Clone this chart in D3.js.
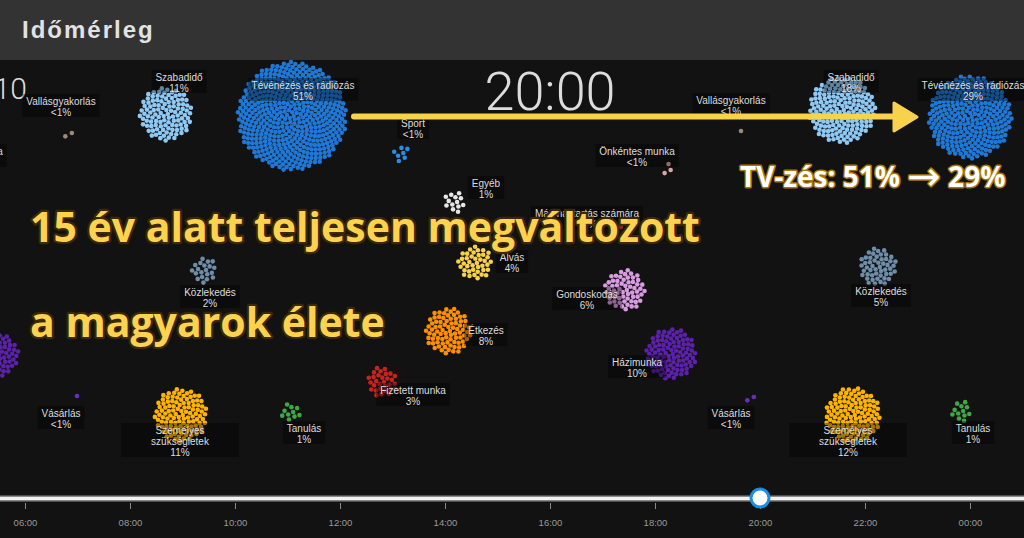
<!DOCTYPE html>
<html><head><meta charset="utf-8">
<script src="https://cdn.jsdelivr.net/npm/d3@7"></script>
<style>
html,body{margin:0;padding:0;background:#121212;overflow:hidden}
svg{display:block}
</style></head><body>
<svg id="c" width="1024" height="538"></svg>
<script>
// ---------------- DATA ----------------
const title = "Időmérleg";
const clockLabel = "20:00";
const yearLabel = "2010";
const headline = ["15 év alatt teljesen megváltozott", "a magyarok élete"];
const calloutParts = ["TV-zés: 51% ", "→", " 29%"];

const activityNames = ["Tévénézés és rádiózás","Szabadidő","Sport","Vallásgyakorlás","Önkéntes munka","Egyéb",
  "Más háztartás számára","Alvás","Gondoskodás","Étkezés","Házimunka","Közlekedés","Fizetett munka","Vásárlás",
  "Személyes\nszükségletek","Tanulás"];
const activityColors = ["#1f78d6","#8ec9f5","#2b8ce6","#9c8a78","#d9a6a0","#e6e6e6",
  "#d03a3a","#f7d148","#d89ae0","#ff8f00","#5b21a8","#6e8da8","#c8231f","#6a2eb8",
  "#ffb300","#3fa846"];

// each cluster = one activity group in a snapshot: activity index, share label, number of people (dots)
const clusterActivity = [0,1,3,4,11,10,13,14,15,12,2,5,6,7,8,9, 3,1,0,4,11,10,13,14,15];
const clusterShare    = ["51%","11%","<1%","<1%","2%","7%","<1%","11%","1%","3%","<1%","1%","<1%","4%","6%","8%",
                         "<1%","18%","29%","<1%","5%","10%","<1%","12%","1%"];
const clusterDots     = [510,110,2,3,20,70,1,110,10,30,7,13,1,40,60,80, 1,180,290,3,50,100,2,120,12];

// slider
const tickHours = [6,8,10,12,14,16,18,20,22,24];
const currentHour = 20;

// ---------------- LAYOUT (positions, not data) ----------------
// [cluster cx, cluster cy, label cx, label first-line y]
const clusterLayout = [
  [292,116,303,85],[166,114,179,77],[69,133,61,101],[-14,170,-35,151],[204,270,210,292],[-3,355,-40,370],
  [77,396,61,413],[181,415,180,430],[291,412,304,428],[382,382,413,390],[401,153,413,123],[455,202,486,183],
  [621,227,587,213],[475,263,512,257],[625,290,587,294],[448,331,486,330],
  [741,131,731,100],[842,110,851,77],[970,117,973,85],[668,170,637,151],[878,267,881,291],[671,354,637,362],
  [751,397,731,413],[853,415,848,430],[961,411,973,428]
];

// ---------------- DRAW ----------------
const svg = d3.select("#c");
svg.append("rect").attr("width",1024).attr("height",538).attr("fill","#121212");
svg.append("rect").attr("width",1024).attr("height",60).attr("fill","#333333");
svg.append("text").attr("x",22).attr("y",38).text(title)
  .attr("font-family","Liberation Sans, Arial, sans-serif").attr("font-weight","bold")
  .attr("font-size",24).attr("letter-spacing",2).attr("fill","#e2e2e2");

// clock & year
svg.append("text").attr("x",550).attr("y",110).attr("text-anchor","middle").text(clockLabel)
  .attr("font-family","Roboto, Liberation Sans, sans-serif").attr("font-weight",300)
  .attr("font-size",54).attr("fill","#dcdcdc");
svg.append("text").attr("x",27).attr("y",99).attr("text-anchor","end").text(yearLabel)
  .attr("font-family","Roboto, Liberation Sans, sans-serif").attr("font-weight",300)
  .attr("font-size",30).attr("fill","#dcdcdc");

// dots
const rScale = d3.scaleSqrt().domain([0,1]).range([0,2.3]);
const GA = Math.PI*(3-Math.sqrt(5));
const dotsLayer = svg.append("g");
const labelLayer = svg.append("g");
clusterDots.forEach((n,i)=>{
  const [cx,cy,lx,ly] = clusterLayout[i];
  const R = n>1 ? rScale(n)+2.5 : 0;
  const col = activityColors[clusterActivity[i]];
  dotsLayer.append("g").selectAll("circle").data(d3.range(n)).join("circle")
    .attr("cx",k=>cx+R*Math.sqrt((k+0.5)/n)*Math.cos(k*GA))
    .attr("cy",k=>cy+R*Math.sqrt((k+0.5)/n)*Math.sin(k*GA))
    .attr("r",2.3).attr("fill",col);

  const name = activityNames[clusterActivity[i]];
  const lines = name.split("\n").concat([clusterShare[i]]);
  const g = labelLayer.append("g").attr("transform",`translate(${lx},${ly})`);
  const rect = g.append("rect");
  const tmp = g.append("text").attr("font-family","Liberation Sans, Arial, sans-serif").attr("font-size",10)
    .text(name.replace("\n"," "));
  const w = tmp.node().getComputedTextLength(); tmp.remove();
  rect.attr("x",-w/2-4).attr("y",-7).attr("width",w+8).attr("height",lines.length*11+1)
    .attr("fill","rgba(0,0,0,0.35)");
  g.selectAll("text.l").data(lines).join("text").attr("class","l")
    .attr("x",0).attr("y",(d,k)=>k*11+3.5).attr("text-anchor","middle")
    .attr("font-family","Liberation Sans, Arial, sans-serif").attr("font-size",10)
    .attr("fill","#dddddd").text(d=>d);
});

// slider
const x = d3.scaleLinear().domain([6,24]).range([25,970]);
svg.append("line").attr("x1",0).attr("x2",1024).attr("y1",498.5).attr("y2",498.5)
  .attr("stroke","#8a8a8a").attr("stroke-width",6);
svg.append("line").attr("x1",0).attr("x2",1024).attr("y1",498.5).attr("y2",498.5)
  .attr("stroke","#f2f2f2").attr("stroke-width",3);
const axis = d3.axisBottom(x).tickValues(tickHours).tickSize(6).tickPadding(10)
  .tickFormat(h=>String(h%24).padStart(2,"0")+":00");
const ag = svg.append("g").attr("transform","translate(0,503)").call(axis);
ag.select(".domain").remove();
ag.selectAll("line").attr("stroke","#8a8a8a");
ag.selectAll("text").attr("fill","#9a9a9a").attr("font-size",9.5)
  .attr("font-family","Liberation Sans, Arial, sans-serif");
svg.append("circle").attr("cx",x(currentHour)).attr("cy",498).attr("r",9)
  .attr("fill","#ffffff").attr("stroke","#1a8fe0").attr("stroke-width",3);

// arrow
svg.append("line").attr("x1",354).attr("x2",896).attr("y1",116.5).attr("y2",116.5)
  .attr("stroke","#f8d24c").attr("stroke-width",6).attr("stroke-linecap","round");
svg.append("path").attr("d","M894,103 L917,117 L894,131 Z").attr("fill","#f8d24c")
  .attr("stroke","#f8d24c").attr("stroke-width",3).attr("stroke-linejoin","round");

// overlay texts
const ct = svg.append("text").attr("x",740).attr("y",187)
  .attr("font-family","Open Sans, Noto Sans, sans-serif").attr("font-weight","bold").attr("font-size",28)
  .attr("fill","#ffffff").attr("stroke","#a8760a").attr("stroke-width",3).attr("paint-order","stroke")
  .attr("stroke-linejoin","round");
ct.selectAll("tspan").data(calloutParts).join("tspan").text(d=>d)
  .attr("font-family",(d,i)=>i===1?"DejaVu Sans, sans-serif":null)
  .attr("font-weight",(d,i)=>i===1?"normal":null)
  .attr("font-size",(d,i)=>i===1?40:null)
  .attr("dy",(d,i)=>i===1?3:(i===2?-3:null));
svg.selectAll("text.h").data(headline).join("text").attr("class","h")
  .attr("x",30).attr("y",(d,i)=>242+i*95).text(d=>d)
  .attr("font-family","Open Sans, Noto Sans, sans-serif").attr("font-weight","bold").attr("font-size",41)
  .attr("fill","#fdd24e").attr("stroke","#3a2806").attr("stroke-width",4.5).attr("paint-order","stroke")
  .attr("stroke-linejoin","round");
</script>
</body></html>
